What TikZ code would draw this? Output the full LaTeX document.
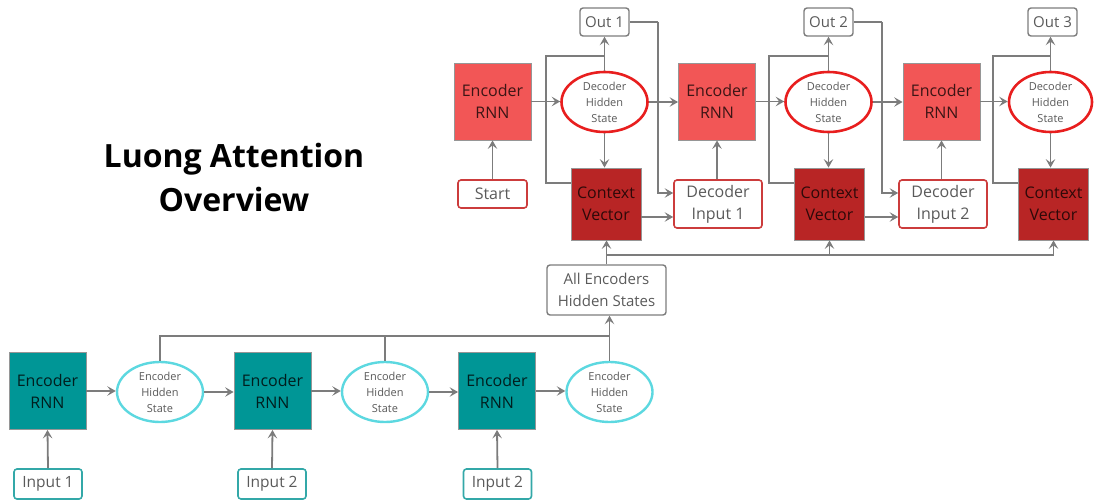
\documentclass[tikz,border=0pt]{standalone}
\usepackage{fontspec}
\setmainfont{Open Sans}
\usetikzlibrary{arrows.meta,shapes.geometric}
\definecolor{tealbox}{HTML}{009696}
\definecolor{tealline}{HTML}{33A8A8}
\definecolor{cyanring}{HTML}{5CD8E0}
\definecolor{redbox}{HTML}{F25656}
\definecolor{darkred}{HTML}{B82525}
\definecolor{redring}{HTML}{E81E1E}
\definecolor{redline}{HTML}{CC3C3C}
\definecolor{wire}{HTML}{7C7C7C}
\definecolor{softtext}{HTML}{5A5A5A}
\begin{document}
\begin{tikzpicture}[x=1pt,y=-1pt,
  every node/.style={inner sep=0pt,align=center},
  basebox/.style={rectangle,draw=wire!80,line width=0.8pt},
  encbox/.style={basebox,fill=tealbox,minimum width=77pt,minimum height=77pt,
    font=\fontsize{16}{22}\selectfont,text=black!80!tealbox},
  rnnbox/.style={basebox,fill=redbox,minimum width=77pt,minimum height=77pt,
    font=\fontsize{16}{22}\selectfont,text=black!75!redbox},
  ctxbox/.style={basebox,fill=darkred,minimum width=70pt,minimum height=72pt,
    font=\fontsize{16}{22}\selectfont,text=black!75!darkred},
  ehstate/.style={ellipse,draw=cyanring,fill=white,line width=2.4pt,
    minimum width=86pt,minimum height=60pt,
    font=\fontsize{11}{16}\selectfont,text=softtext},
  dhstate/.style={ellipse,draw=redring,fill=white,line width=2.6pt,
    minimum width=86pt,minimum height=60pt,
    font=\fontsize{11}{16}\selectfont,text=softtext},
  inbox/.style={rectangle,rounded corners=3pt,draw=tealline,line width=1.6pt,
    minimum width=68pt,minimum height=30pt,
    font=\fontsize{15.5}{21}\selectfont,text=softtext},
  decin/.style={rectangle,rounded corners=3pt,draw=redline,line width=1.6pt,
    minimum height=48pt,font=\fontsize{16}{22}\selectfont,text=softtext},
  greybox/.style={rectangle,rounded corners=3pt,draw=wire,line width=1.4pt,
    font=\fontsize{15}{22}\selectfont,text=softtext},
  wireline/.style={draw=wire,line width=1.8pt},
  wirearrow/.style={wireline,-{Stealth[length=8.5pt,width=9.5pt,inset=3.5pt]}}
]
\useasboundingbox (0,0) rectangle (1094,500);

% title
\node[font=\bfseries\fontsize{32}{44}\selectfont] (title) at (234,177)
  {Luong Attention\\Overview};

% encoder side
\node[encbox] (enc1) at (47.5,391) {Encoder\\RNN};
\node[encbox] (enc2) at (272.5,391) {Encoder\\RNN};
\node[encbox] (enc3) at (497,391) {Encoder\\RNN};
\node[ehstate] (ehs1) at (160,392) {Encoder\\Hidden\\State};
\node[ehstate] (ehs2) at (385,392) {Encoder\\Hidden\\State};
\node[ehstate] (ehs3) at (609.5,392) {Encoder\\Hidden\\State};
\node[inbox] (in1) at (48,484) {Input 1};
\node[inbox] (in2) at (272,484) {Input 2};
\node[inbox] (in3) at (497.5,484) {Input 2};
\node[greybox,minimum width=119pt,minimum height=50pt] (ae) at (606.5,290)
  {All Encoders\\Hidden States};

% decoder side
\node[rnnbox] (er1) at (492.5,101.5) {Encoder\\RNN};
\node[rnnbox] (er2) at (717,101.5) {Encoder\\RNN};
\node[rnnbox] (er3) at (941.5,101.5) {Encoder\\RNN};
\node[dhstate] (dh1) at (604.5,102) {Decoder\\Hidden\\State};
\node[dhstate] (dh2) at (828.5,102) {Decoder\\Hidden\\State};
\node[dhstate,minimum width=83pt] (dh3) at (1050.5,102) {Decoder\\Hidden\\State};
\node[ctxbox] (cv1) at (606,204) {Context\\Vector};
\node[ctxbox] (cv2) at (829.5,204) {Context\\Vector};
\node[ctxbox] (cv3) at (1053.5,204) {Context\\Vector};
\node[greybox,minimum width=49pt,minimum height=28pt] (out1) at (604.5,22) {Out 1};
\node[greybox,minimum width=49pt,minimum height=28pt] (out2) at (828.5,22) {Out 2};
\node[greybox,minimum width=49pt,minimum height=28pt] (out3) at (1052.5,22) {Out 3};
\node[decin,minimum width=69pt,minimum height=28pt] (start) at (492.5,194) {Start};
\node[decin,minimum width=88pt] (di1) at (718,204) {Decoder\\Input 1};
\node[decin,minimum width=88pt] (di2) at (943,204) {Decoder\\Input 2};

% encoder chain
\foreach \i in {1,2,3} {
  \draw[wirearrow] (in\i.north) -- (enc\i.south);
  \draw[wirearrow] (enc\i.east) -- (enc\i.east -| ehs\i.west);
}
\draw[wirearrow] (ehs1.east) -- (ehs1.east -| enc2.west);
\draw[wirearrow] (ehs2.east) -- (ehs2.east -| enc3.west);

% collecting the encoder hidden states
\coordinate (ebus) at (ehs3.north |- 0,336);
\draw[wireline] (ehs1.north) |- (ebus);
\draw[wireline] (ehs2.north) -- (ehs2.north |- ebus);
\draw[wirearrow] (ehs3.north) -- (ehs3.north |- ae.south);

% all hidden states to every context vector
\coordinate (cbus) at (ae.north |- 0,255);
\draw[wirearrow] (ae.north) -- (ae.north |- cv1.south);
\draw[wirearrow] (cbus) -| (cv3.south);
\draw[wirearrow] (cv2.south |- cbus) -- (cv2.south);

% decoder steps
\draw[wirearrow] (start.north) -- (start.north |- er1.south);
\draw[wirearrow] (di1.north -| er2.south) -- (er2.south);
\draw[wirearrow] (di2.north -| er3.south) -- (er3.south);
\foreach \i in {1,2,3} {
  \draw[wirearrow] (er\i.east) -- (er\i.east -| dh\i.west);
  \draw[wirearrow] (dh\i.south) -- (dh\i.south |- cv\i.north);
  \draw[wirearrow] (dh\i.north) -- (dh\i.north |- out\i.south);
  \coordinate (lo\i) at ([xshift=-25pt,yshift=21pt]cv\i.west);
  \coordinate (hi\i) at (lo\i |- 0,56);
  \draw[wireline] ([yshift=21pt]cv\i.west) -- (lo\i) -- (hi\i) -- (hi\i -| dh\i.north);
}
\draw[wirearrow] (dh1.east) -- (dh1.east -| er2.west);
\draw[wirearrow] (dh2.east) -- (dh2.east -| er3.west);

% outputs and context vectors feed the next decoder input
\coordinate (t1) at ([xshift=28pt]out1.east);
\coordinate (t2) at ([xshift=28pt]out2.east);
\draw[wireline] (out1.east) -- (t1);
\draw[wirearrow] (t1) |- ([yshift=11pt]di1.west);
\draw[wireline] (out2.east) -- (t2);
\draw[wirearrow] (t2) |- ([yshift=11pt]di2.west);
\draw[wirearrow] ([yshift=-13pt]cv1.east) -- ([yshift=-13pt]cv1.east -| di1.west);
\draw[wirearrow] ([yshift=-13pt]cv2.east) -- ([yshift=-13pt]cv2.east -| di2.west);
\end{tikzpicture}
\end{document}
